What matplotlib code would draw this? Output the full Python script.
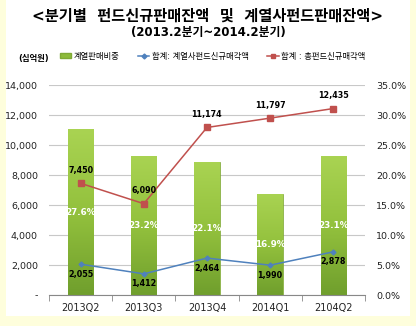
import matplotlib
matplotlib.use("Agg")
import matplotlib.pyplot as plt
from matplotlib.patches import Rectangle, Patch
from matplotlib.lines import Line2D
from matplotlib.ticker import FuncFormatter, MultipleLocator
import numpy as np

plt.rcParams['font.family'] = ['DejaVu Sans', 'Noto Sans CJK KR']

quarters = ["2013Q2", "2013Q3", "2013Q4", "2014Q1", "2104Q2"]
share_pct = [27.6, 23.2, 22.1, 16.9, 23.1]          # 계열판매비중 (%)
affiliate_sales = [2055, 1412, 2464, 1990, 2878]    # 계열사펀드신규매각액
total_sales = [7450, 6090, 11174, 11797, 12435]     # 총펀드신규매각액

fig = plt.figure(figsize=(4.16, 3.26), dpi=100, facecolor='#FEFEDC')
fig.patches.append(Rectangle((0.015, 0.03), 0.97, 0.97, transform=fig.transFigure,
                             facecolor='white', edgecolor='none', zorder=0))

ax = fig.add_axes([0.118, 0.095, 0.759, 0.644])
ax.set_facecolor('none')
ax2 = ax.twinx()
# bars go behind the lines
ax.set_zorder(2)
ax2.set_zorder(1)

x = np.arange(len(quarters))
w = 0.4

# gradient green bars on the % axis
grad = np.linspace(0, 1, 100).reshape(-1, 1)
cmap = matplotlib.colors.LinearSegmentedColormap.from_list('g', ['#709F2D', '#93C13D', '#A9D352'])
bars = ax2.bar(x, [v / 100 for v in share_pct], width=w, color='#8DBB3A', edgecolor='#7FA935', linewidth=0.5)
for b in bars:
    x0, h = b.get_x(), b.get_height()
    im = ax2.imshow(grad, cmap=cmap, aspect='auto', origin='lower',
                    extent=(x0, x0 + w, 0, h), zorder=b.get_zorder() + 0.1)
    im.set_clip_path(b)
for xi, v in zip(x, share_pct):
    ax2.text(xi, v / 200, f"{v:.1f}%", ha='center', va='center', color='white',
             fontsize=6.3, fontweight='bold', zorder=5)

ax.plot(x, total_sales, color='#C0504D', marker='s', markersize=4, linewidth=1.1)
ax.plot(x, affiliate_sales, color='#4F81BD', marker='D', markersize=2.5, linewidth=1.1)
for xi, v in zip(x, total_sales):
    ax.annotate(f"{v:,}", (xi, v), xytext=(0, 6), textcoords='offset points',
                ha='center', va='bottom', fontsize=5.8, fontweight='bold')
for xi, v in zip(x, affiliate_sales):
    ax.annotate(f"{v:,}", (xi, v), xytext=(0, -4), textcoords='offset points',
                ha='center', va='top', fontsize=5.8, fontweight='bold')

ax.set_xlim(-0.5, len(quarters) - 0.5)
ax.set_ylim(0, 14000)
ax2.set_ylim(0, 0.35)
ax.yaxis.set_major_locator(MultipleLocator(2000))
ax2.yaxis.set_major_locator(MultipleLocator(0.05))
ax.yaxis.set_major_formatter(FuncFormatter(lambda v, p: "-" if v == 0 else f"{int(v):,}"))
ax2.yaxis.set_major_formatter(FuncFormatter(lambda v, p: f"{v * 100:.1f}%"))
ax2.yaxis.grid(True, color='#C8C8C8', linewidth=0.8)
ax2.set_axisbelow(True)

ax.set_xticks(x)
ax.set_xticklabels(quarters)
ax.set_xticks(np.arange(-0.5, len(quarters)), minor=True)
ax.tick_params(axis='x', which='major', length=0, labelsize=7, pad=6, labelcolor='#222222')
ax.tick_params(axis='x', which='minor', length=4, color='#888888', direction='out')
ax.tick_params(axis='y', length=0, labelsize=6.8, pad=8, labelcolor='#222222')
ax2.tick_params(axis='y', length=0, labelsize=6.8, pad=8, labelcolor='#222222')
for a in (ax, ax2):
    for s in ['top', 'left', 'right']:
        a.spines[s].set_visible(False)
ax.spines['bottom'].set_color('#888888')
ax2.spines['bottom'].set_visible(False)

fig.text(0.5, 0.951, "<분기별  펀드신규판매잔액  및  계열사펀드판매잔액>", ha='center', va='center',
         fontsize=11, fontweight='bold')
fig.text(0.5, 0.899, "(2013.2분기~2014.2분기)", ha='center', va='center', fontsize=8.5, fontweight='bold')
fig.text(0.045, 0.82, "(십억원)", ha='left', va='center', fontsize=6, fontweight='bold')

handles = [Patch(facecolor='#8DBB3A', edgecolor='#7FA935'),
           Line2D([], [], color='#4F81BD', marker='D', markersize=2.5, linewidth=1.1),
           Line2D([], [], color='#C0504D', marker='s', markersize=3.5, linewidth=1.1)]
labels = ["계열판매비중", "합계: 계열사펀드신규매각액", "합계 : 총펀드신규매각액"]
fig.legend(handles, labels, loc='center left', bbox_to_anchor=(0.125, 0.828), ncol=3,
           frameon=False, fontsize=6, handlelength=1.4, handleheight=0.4, handletextpad=0.3,
           columnspacing=2.2)

fig.savefig("out.png", dpi=100, facecolor=fig.get_facecolor())
